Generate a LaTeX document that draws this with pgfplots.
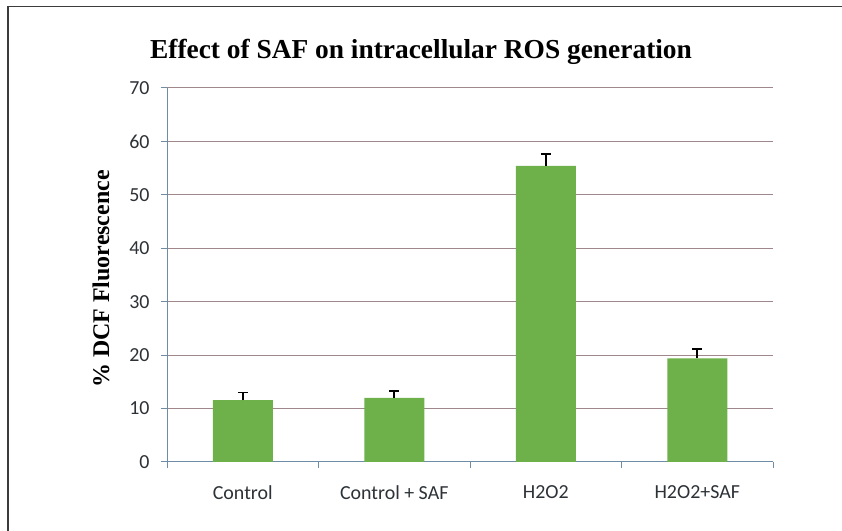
\documentclass[border=0pt]{standalone}
\usepackage{fontspec}
\setmainfont{Liberation Serif}
\newfontfamily\calfont{Carlito}
\usepackage{pgfplots}
\pgfplotsset{compat=1.18}
\definecolor{barg}{RGB}{110,176,74}
\definecolor{axc}{RGB}{110,140,165}
\definecolor{gridc}{RGB}{160,135,140}
\definecolor{tickc}{RGB}{45,50,55}
\definecolor{framec}{RGB}{60,60,60}
\begin{document}
\begin{tikzpicture}[x=1bp,y=1bp]
\useasboundingbox (0,0) rectangle (842,531);
\fill[white] (0,0) rectangle (842,531);
\draw[framec,line width=1.4bp] (8,0) -- (8,524.5) -- (842,524.5);
\begin{axis}[
  at={(167bp,69bp)}, anchor=south west,
  scale only axis, width=606bp, height=374bp,
  ymin=0, ymax=70, ytick={0,10,...,70},
  xmin=-0.5, xmax=3.5,
  xtick={0,1,2,3},
  xticklabels={Control, Control + SAF, H2O2, H2O2+SAF},
  minor xtick={-0.5,0.5,1.5,2.5,3.5},
  tick align=outside,
  major tick length=6bp, minor tick length=6bp,
  xtick style={draw=none},
  minor x tick style={draw=axc, line width=1bp},
  ytick style={draw=axc, line width=1bp},
  ymajorgrids, grid style={gridc, line width=1bp},
  axis x line*=bottom, axis y line*=left,
  axis line style={axc, line width=1bp, -},
  /pgf/number format/assume math mode=true,
  ticklabel style={font=\calfont\fontsize{20}{23}\selectfont, text=tickc},
  yticklabel style={xshift=-8bp},
  xticklabel style={yshift=-14bp},
  ybar, bar width=60bp,
  clip=false,
]
\addplot[fill=barg, draw=none,
  error bars/.cd, y dir=plus, y explicit,
  error bar style={black, line width=1.8bp},
  error mark options={rotate=90, mark size=5bp, line width=1.8bp, black}]
  coordinates {
  (0,11.6) +- (0,1.4)
  (1,12.0) +- (0,1.3)
  (2,55.4) +- (0,2.2)
  (3,19.4) +- (0,1.7)
  };
\end{axis}
\node[anchor=base] at (421,472) {\fontsize{27.5}{30}\selectfont\bfseries Effect of SAF on intracellular ROS generation};
\node[rotate=90] at (101,252) {\fontsize{24}{28}\selectfont\bfseries \% DCF Fluorescence};
\end{tikzpicture}
\end{document}
